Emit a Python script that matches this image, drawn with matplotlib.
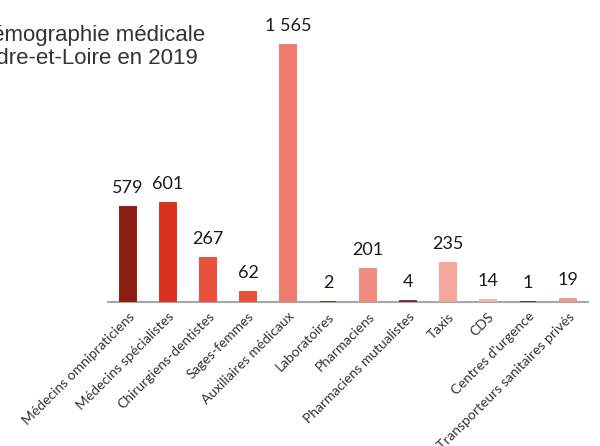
import matplotlib
matplotlib.use('Agg')
import matplotlib.pyplot as plt

# demographie medicale, Indre-et-Loire 2019
categories = ['Médecins omnipraticiens', 'Médecins spécialistes', 'Chirurgiens-dentistes',
              'Sages-femmes', 'Auxiliaires médicaux', 'Laboratoires', 'Pharmaciens',
              'Pharmaciens mutualistes', 'Taxis', 'CDS', "Centres d'urgence",
              'Transporteurs sanitaires privés']
values = [579, 601, 267, 62, 1565, 2, 201, 4, 235, 14, 1, 19]
value_labels = ['579', '601', '267', '62', '1 565', '2', '201', '4', '235', '14', '1', '19']
colors = ['#8B1C12', '#DA321E', '#E8503C', '#E8503C', '#EF7A6E', '#6E3A34', '#F08C80',
          '#6E3A34', '#F4A69C', '#F6B8AE', '#5E3A36', '#F09A90']

fig = plt.figure(figsize=(6.0, 4.46), dpi=100)
ax = fig.add_axes([0.18, 0.3229, 0.80, 0.632])

x = range(len(values))
ax.bar(x, values, width=0.38, color=colors, edgecolor=colors, linewidth=1.4)
ax.set_xlim(-0.5, len(values) - 0.5)
ax.set_ylim(0, 1717)

for xi, v, lab in zip(x, values, value_labels):
    ax.annotate(lab, (xi, v), xytext=(0, 8), textcoords='offset points',
                ha='center', va='bottom', fontsize=13, family='Lato', color='#1A1A1A')

ax.set_xticks(list(x))
ax.set_xticklabels(categories, rotation=45, ha='right', rotation_mode='anchor',
                   fontsize=10, family='Lato', color='#333333')
ax.tick_params(axis='x', length=0, pad=6)
ax.set_yticks([])
for s in ['top', 'right', 'left']:
    ax.spines[s].set_visible(False)
ax.spines['bottom'].set_color('#A6A6A6')
ax.spines['bottom'].set_linewidth(1.5)
ax.spines['bottom'].set_zorder(0.5)

# title is cut at the left edge in the original picture
fig.text(205 / 600, 1 - 41 / 446, 'Démographie médicale', ha='right', va='baseline',
         fontsize=16, family='Liberation Sans', color='#333333')
fig.text(198 / 600, 1 - 64 / 446, 'en Indre-et-Loire en 2019', ha='right', va='baseline',
         fontsize=16, family='Liberation Sans', color='#333333')

fig.savefig('out.png', dpi=100)
